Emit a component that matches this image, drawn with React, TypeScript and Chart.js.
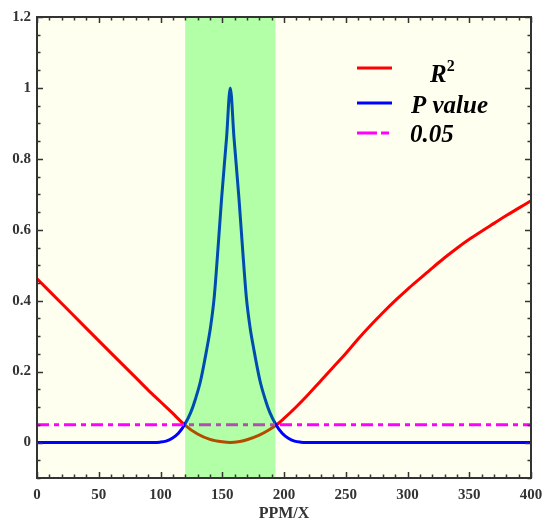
import React, { useEffect, useRef } from "react";
import { Chart, registerables } from "chart.js";

Chart.register(...registerables);

// ---- data ----
const rSquaredX = [0, 20, 40, 60, 80, 90, 100, 110, 119.5, 130, 140, 150, 156.5, 163, 170, 180, 187, 194, 200, 210, 220, 230, 240, 250, 260, 270, 280, 290, 300, 310, 320, 330, 340, 350, 360, 370, 380, 390, 400];
const rSquaredY = [0.462, 0.392, 0.322, 0.252, 0.183, 0.148, 0.115, 0.082, 0.05, 0.024, 0.009, 0.002, 0, 0.002, 0.008, 0.021, 0.034, 0.05, 0.068, 0.101, 0.137, 0.175, 0.213, 0.251, 0.292, 0.33, 0.366, 0.4, 0.432, 0.462, 0.492, 0.521, 0.548, 0.573, 0.596, 0.618, 0.64, 0.661, 0.682];

const pValueX = [0, 50, 90, 94.5, 99.5, 104.5, 109.5, 114.5, 119.5, 124.5, 128.5, 132.5, 137.5, 140.5, 143.5, 146.5, 149.5, 153.5, 156.5, 159.5, 163.5, 166.5, 169.5, 172.5, 175.5, 180.5, 184.5, 188.5, 193.5, 198.5, 203.5, 208.5, 213.5, 218.5, 300, 400];
const pValueY = [0, 0, 0, 0, 0.001, 0.004, 0.012, 0.026, 0.05, 0.085, 0.125, 0.175, 0.264, 0.325, 0.41, 0.545, 0.69, 0.86, 1.0, 0.86, 0.69, 0.545, 0.41, 0.325, 0.264, 0.175, 0.125, 0.085, 0.05, 0.026, 0.012, 0.004, 0.001, 0, 0, 0];

const thresholdX = [0, 400];
const thresholdY = [0.05, 0.05];

const bandRange = [120, 193];

const xTicks = [0, 50, 100, 150, 200, 250, 300, 350, 400];
const yTicks = [0, 0.2, 0.4, 0.6, 0.8, 1, 1.2];
const xMinorStep = 10;
const yMinorStep = 0.05;

const legendLabels = ["R", "P value", "0.05"];
const xTitle = "PPM/X";

const SERIF = "'Times New Roman', 'Liberation Serif', serif";
const AXIS_COLOR = "#333333";
const RED = "#ff0000";
const BLUE = "#0000ff";
const MAGENTA = "#ff00ff";

const toPoints = (xs: number[], ys: number[]) => xs.map((x, i) => ({ x, y: ys[i] }));

const customPlugin = {
  id: "customDecor",
  beforeDatasetsDraw(chart: any) {
    const { ctx, chartArea: a } = chart;
    ctx.save();
    ctx.fillStyle = "#fffff0";
    ctx.fillRect(a.left, a.top, a.right - a.left, a.bottom - a.top);
    ctx.restore();
  },
  afterDatasetsDraw(chart: any) {
    const { ctx, chartArea: a, scales } = chart;
    const x0 = scales.x.getPixelForValue(bandRange[0]);
    const x1 = scales.x.getPixelForValue(bandRange[1]);
    ctx.save();
    ctx.fillStyle = "rgba(0,255,0,0.3)";
    ctx.fillRect(x0, a.top, x1 - x0, a.bottom - a.top);
    ctx.restore();
  },
  afterDraw(chart: any) {
    const { ctx, chartArea: a, scales } = chart;
    const xs = scales.x;
    const ys = scales.y;
    ctx.save();
    ctx.strokeStyle = AXIS_COLOR;
    ctx.lineWidth = 1.5;
    const major = 6;
    const minor = 3.5;
    ctx.beginPath();
    for (let v = xs.min; v <= xs.max + 1e-9; v += xMinorStep) {
      const isMajor = xTicks.some((t) => Math.abs(t - v) < 1e-6);
      const len = isMajor ? major : minor;
      const px = Math.round(xs.getPixelForValue(v)) + 0.5;
      ctx.moveTo(px, a.bottom);
      ctx.lineTo(px, a.bottom - len);
      ctx.moveTo(px, a.top);
      ctx.lineTo(px, a.top + len);
    }
    const nY = Math.round((ys.max - ys.min) / yMinorStep);
    for (let i = 0; i <= nY; i++) {
      const v = ys.min + i * yMinorStep;
      const isMajor = yTicks.some((t) => Math.abs(t - v) < 1e-6);
      const len = isMajor ? major : minor;
      const py = Math.round(ys.getPixelForValue(v)) + 0.5;
      ctx.moveTo(a.left, py);
      ctx.lineTo(a.left + len, py);
      ctx.moveTo(a.right, py);
      ctx.lineTo(a.right - len, py);
    }
    ctx.stroke();
    ctx.lineWidth = 2;
    ctx.strokeRect(a.left, a.top, a.right - a.left, a.bottom - a.top);

    // legend
    const lx0 = 357;
    const lx1 = 392;
    const rows = [68, 103, 133];
    ctx.lineWidth = 3;
    ctx.strokeStyle = RED;
    ctx.beginPath();
    ctx.moveTo(lx0, rows[0]);
    ctx.lineTo(lx1, rows[0]);
    ctx.stroke();
    ctx.strokeStyle = BLUE;
    ctx.beginPath();
    ctx.moveTo(lx0, rows[1]);
    ctx.lineTo(lx1, rows[1]);
    ctx.stroke();
    ctx.strokeStyle = MAGENTA;
    ctx.setLineDash([20, 4, 8, 4]);
    ctx.beginPath();
    ctx.moveTo(lx0, rows[2]);
    ctx.lineTo(lx1, rows[2]);
    ctx.stroke();
    ctx.setLineDash([]);

    ctx.fillStyle = "#000000";
    ctx.textBaseline = "alphabetic";
    ctx.textAlign = "left";
    ctx.font = `italic bold 25px ${SERIF}`;
    ctx.fillText(legendLabels[0], 430, 82);
    const rw = ctx.measureText(legendLabels[0]).width;
    ctx.font = `bold 16px ${SERIF}`;
    ctx.fillText("2", 430 + rw, 71);
    ctx.font = `italic bold 25px ${SERIF}`;
    ctx.fillText(legendLabels[1], 411, 113);
    ctx.fillText(legendLabels[2], 410, 142);
    ctx.restore();
  },
};

export default function App() {
  const canvasRef = useRef<HTMLCanvasElement | null>(null);

  useEffect(() => {
    if (!canvasRef.current) return;
    const chart = new Chart(canvasRef.current, {
      type: "line",
      data: {
        datasets: [
          {
            label: "0.05",
            data: toPoints(thresholdX, thresholdY),
            borderColor: MAGENTA,
            borderWidth: 3,
            borderDash: [12, 5, 5, 5],
            pointRadius: 0,
            fill: false,
          },
          {
            label: "P value",
            data: toPoints(pValueX, pValueY),
            borderColor: BLUE,
            borderWidth: 3,
            pointRadius: 0,
            cubicInterpolationMode: "monotone",
            fill: false,
          },
          {
            label: "R2",
            data: toPoints(rSquaredX, rSquaredY),
            borderColor: RED,
            borderWidth: 3,
            pointRadius: 0,
            cubicInterpolationMode: "monotone",
            fill: false,
          },
        ],
      },
      options: {
        animation: false,
        responsive: false,
        maintainAspectRatio: false,
        layout: { padding: { top: 17, right: 14, left: 0, bottom: 0 } },
        plugins: {
          legend: { display: false },
          tooltip: { enabled: false },
        },
        scales: {
          x: {
            type: "linear",
            min: 0,
            max: 400,
            grid: { display: false, drawTicks: false },
            border: { display: false },
            afterBuildTicks: (scale: any) => {
              scale.ticks = xTicks.map((v) => ({ value: v }));
            },
            afterFit: (scale: any) => {
              scale.height = 45;
              scale.paddingRight = 0;
              scale.paddingLeft = 0;
            },
            ticks: {
              color: AXIS_COLOR,
              font: { family: SERIF, size: 15, weight: "bold" },
              padding: 8,
              maxRotation: 0,
              callback: (v: any) => String(v),
            },
            title: {
              display: true,
              text: xTitle,
              color: AXIS_COLOR,
              font: { family: SERIF, size: 16, weight: "bold" },
              padding: { top: 0, bottom: 0 },
            },
          },
          y: {
            type: "linear",
            min: -0.1,
            max: 1.2,
            grid: { display: false, drawTicks: false },
            border: { display: false },
            afterBuildTicks: (scale: any) => {
              scale.ticks = yTicks.map((v) => ({ value: v }));
            },
            afterFit: (scale: any) => {
              scale.width = 37;
              scale.paddingTop = 0;
              scale.paddingBottom = 0;
            },
            ticks: {
              color: AXIS_COLOR,
              font: { family: SERIF, size: 15, weight: "bold" },
              padding: 6,
              callback: (v: any) => String(v),
            },
          },
        },
      } as any,
      plugins: [customPlugin],
    });
    return () => chart.destroy();
  }, []);

  return (
    <div style={{ position: "fixed", left: 0, top: 0, width: 545, height: 523, background: "#ffffff" }}>
      <canvas ref={canvasRef} width={545} height={523} />
    </div>
  );
}
